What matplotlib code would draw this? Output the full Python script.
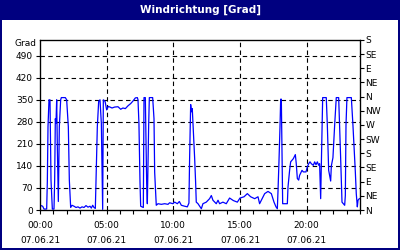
import matplotlib
matplotlib.use("Agg")
import matplotlib.pyplot as plt
from matplotlib.patches import Rectangle

title = "Windrichtung [Grad]"
date_label = "07.06.21"
hour_ticks = [0, 5, 10, 15, 20]
left_ticks = [0, 70, 140, 210, 280, 350, 420, 490]
compass_labels = ["N", "NE", "E", "SE", "S", "SW", "W", "NW", "N", "NE", "E", "SE", "S"]

hours = [0.0, 0.2, 0.3, 0.5, 0.55, 0.6, 0.675, 0.75, 0.825, 0.925, 1.05, 1.1, 1.15,
         1.2, 1.25, 1.3, 1.375, 1.45, 1.55, 1.6, 1.9, 2.0, 2.125, 2.2, 2.3,
         2.4, 2.55, 2.7, 2.85, 3.0, 3.15, 3.3, 3.45, 3.6, 3.75, 3.85, 3.95, 4.05, 4.15,
         4.2, 4.3, 4.4, 4.5, 4.6, 4.7, 4.75, 4.88, 5.0, 5.12, 5.25, 5.4, 5.6, 5.85,
         6.05, 6.22, 6.4, 6.6, 6.8, 6.97, 7.15, 7.3, 7.35, 7.42, 7.5, 7.55, 7.75,
         7.8, 7.9, 8.0, 8.05, 8.15, 8.2, 8.3, 8.45, 8.55, 8.6, 8.72, 8.85, 9.1,
         9.35, 9.6, 9.72, 9.97, 10.1, 10.3, 10.45, 10.6, 10.85, 11.05, 11.17, 11.22,
         11.3, 11.35, 11.42, 11.5, 11.6, 11.67, 11.72, 11.85, 12.1, 12.22, 12.47,
         12.72, 12.85, 12.97, 13.22, 13.35, 13.47, 13.72, 13.97, 14.22, 14.5, 14.8,
         15.0, 15.3, 15.55, 15.8, 16.1, 16.35, 16.47, 16.6, 16.85, 17.1, 17.35, 17.55,
         17.7, 17.8, 17.85, 17.92, 18.0, 18.05, 18.1, 18.2, 18.55, 18.6, 18.72, 18.8,
         19.0, 19.15, 19.22, 19.3, 19.4, 19.47, 19.65, 19.75, 19.95, 20.05, 20.15,
         20.25, 20.35, 20.5, 20.6, 20.7, 20.8, 20.9, 20.97, 21.05, 21.1, 21.15, 21.2,
         21.47, 21.55, 21.65, 21.8, 21.85, 21.97, 22.1, 22.22, 22.4, 22.47, 22.55,
         22.65, 22.75, 22.85, 22.9, 22.95, 23.02, 23.35, 23.47, 23.55, 23.65, 23.72,
         23.8, 23.85, 23.95]
degrees = [15, 12, 3, 3, 90, 265, 350, 350, 95, 3, 3, 95, 290,
           276, 350, 202, 27, 265, 350, 357, 357, 350, 264, 95, 8,
           15, 12, 8, 10, 6, 10, 8, 14, 9, 12, 6, 15, 8, 5,
           95, 265, 345, 350, 276, 2, 350, 345, 318, 329, 327, 324, 327, 328,
           320, 324, 322, 331, 338, 346, 356, 357, 350, 275, 89, 12, 8,
           357, 357, 85, 20, 270, 357, 357, 357, 290, 120, 15, 20, 18,
           20, 18, 23, 20, 25, 20, 27, 15, 12, 10, 22, 163,
           335, 312, 322, 250, 163, 89, 25, 20, 4, 20, 25,
           36, 46, 31, 20, 31, 20, 25, 20, 38, 30, 25,
           38, 42, 52, 42, 36, 42, 20, 31, 52, 59, 52, 25,
           10, 4, 60, 150, 264, 352, 352, 20, 20, 73, 126, 153,
           163, 176, 147, 100, 95, 110, 126, 121, 121, 137, 147,
           153, 147, 142, 153, 144, 153, 142, 147, 36, 147, 270, 357,
           357, 270, 126, 92, 140, 166, 270, 357, 357, 270, 163,
           25, 20, 15, 46, 270, 357, 357, 270, 205, 121, 52,
           10, 31, 36]

navy = "#000080"
fig = plt.figure(figsize=(4, 2.5), dpi=100, facecolor="white")

# Title bar and frame
fig.patches.append(Rectangle((0, 230 / 250), 1, 20 / 250, transform=fig.transFigure,
                             facecolor=navy, edgecolor="none", zorder=0))
fig.patches.append(Rectangle((0, 0), 2 / 400, 1, transform=fig.transFigure,
                             facecolor=navy, edgecolor="none"))
fig.patches.append(Rectangle((398 / 400, 0), 2 / 400, 1, transform=fig.transFigure,
                             facecolor=navy, edgecolor="none"))
fig.patches.append(Rectangle((0, 0), 1, 2 / 250, transform=fig.transFigure,
                             facecolor=navy, edgecolor="none"))
fig.text(0.5, 240 / 250, title, color="white", fontsize=7.5, fontweight="bold",
         ha="center", va="center", family="DejaVu Sans")

fs = 6.5
ax = fig.add_axes([40 / 400, 40 / 250, 320 / 400, 170 / 250])
ax.set_facecolor("white")
ax.plot(hours, degrees, color="#0000FF", linewidth=0.9, zorder=3)
ax.set_xlim(0, 24)
ax.set_ylim(0, 540)

ax.set_yticks(left_ticks)
ax.set_yticklabels([str(v) for v in left_ticks], fontsize=fs)
ax.set_xticks(hour_ticks)
ax.set_xticklabels([f"{h:02d}:00\n{date_label}" for h in hour_ticks], fontsize=fs,
                   linespacing=1.9)
ax.set_xticks(range(0, 25), minor=True)
ax.tick_params(axis="both", which="both", direction="out", length=3, width=0.8,
               colors="black", pad=2)
ax.tick_params(axis="x", which="major", pad=5)

grid_style = dict(color="black", linewidth=0.8, linestyle=(0, (4, 3)), zorder=1)
for v in left_ticks[1:]:
    ax.axhline(v, **grid_style)
for h in hour_ticks[1:]:
    ax.axvline(h, **grid_style)
for s in ax.spines.values():
    s.set_linewidth(0.9)
    s.set_zorder(4)

ax.text(-0.012, 1.0 - 4 / 170, "Grad", transform=ax.transAxes, ha="right", va="center",
        fontsize=fs)

ax2 = ax.twinx()
ax2.set_ylim(0, 540)
ax2.set_yticks(list(range(0, 541, 45)))
ax2.set_yticklabels(compass_labels, fontsize=fs)
ax2.tick_params(axis="y", direction="out", length=3, width=0.8, pad=1)

fig.savefig("out.png", dpi=100, facecolor=fig.get_facecolor())
